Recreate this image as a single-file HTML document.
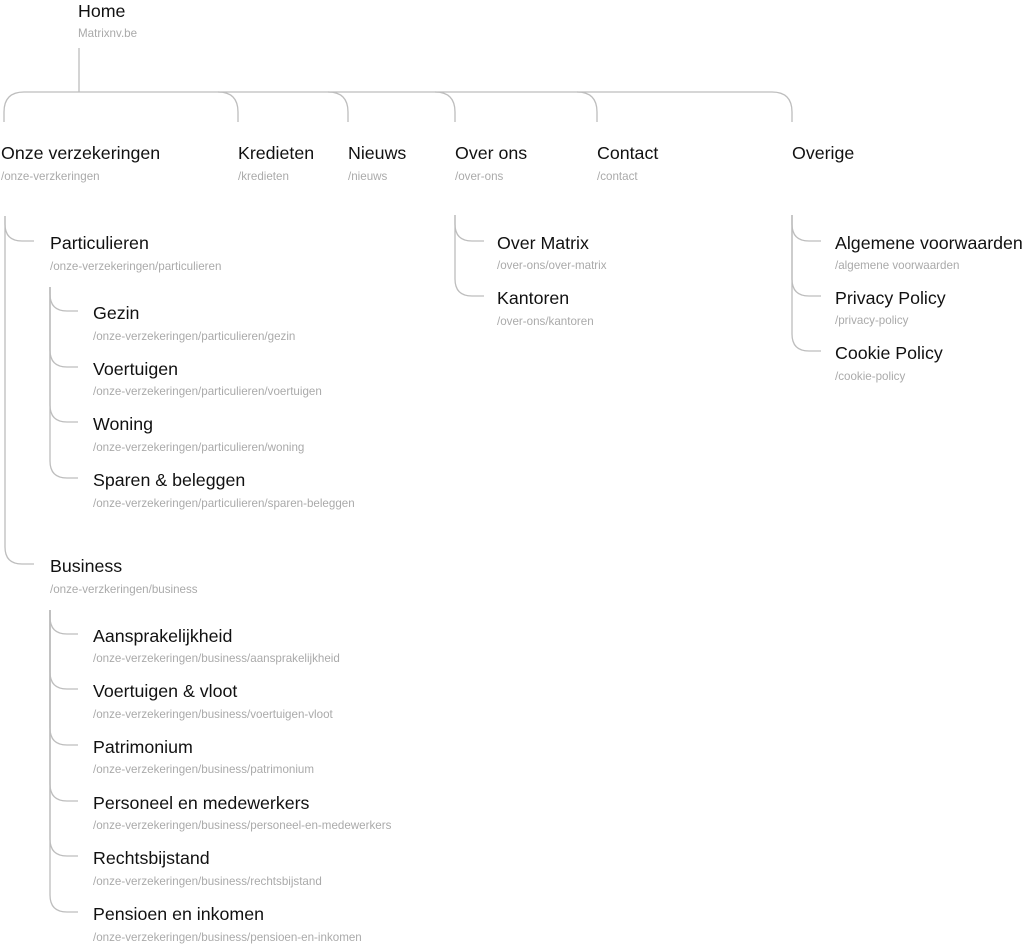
<!DOCTYPE html>
<html><head><meta charset="utf-8"><style>
body{margin:0;width:1024px;height:943px;background:#fff;position:relative;overflow:hidden;font-family:"Liberation Sans",Arial,sans-serif}
.t{position:absolute;font-size:17.8px;line-height:20px;color:#111;white-space:nowrap}
.u{position:absolute;font-size:11.6px;line-height:14px;color:#aaa;white-space:nowrap;margin-top:1px}
svg{position:absolute;left:0;top:0}
</style></head><body>
<svg width="1024" height="943" fill="none" stroke="#bdbdbd" stroke-width="1.3">
<path d="M79 48V92"/>
<path d="M4 122V112Q4 92 24 92H772Q792 92 792 112V122"/>
<path d="M218 92Q238 92 238 112V122"/>
<path d="M328 92Q348 92 348 112V122"/>
<path d="M435 92Q455 92 455 112V122"/>
<path d="M577 92Q597 92 597 112V122"/>
<path d="M5 216V224Q5 241 22 241H34"/>
<path d="M5 216V547Q5 564 22 564H34"/>
<path d="M50 287V294Q50 311 67 311H78"/>
<path d="M50 287V350Q50 367 67 367H78"/>
<path d="M50 287V405Q50 422 67 422H78"/>
<path d="M50 287V461Q50 478 67 478H78"/>
<path d="M50 610V617Q50 634 67 634H78"/>
<path d="M50 610V672Q50 689 67 689H78"/>
<path d="M50 610V728Q50 745 67 745H78"/>
<path d="M50 610V784Q50 801 67 801H78"/>
<path d="M50 610V839Q50 856 67 856H78"/>
<path d="M50 610V895Q50 912 67 912H78"/>
<path d="M455 215V224Q455 241 472 241H484"/>
<path d="M455 215V279Q455 296 472 296H484"/>
<path d="M792 215V224Q792 241 809 241H821"/>
<path d="M792 215V279Q792 296 809 296H821"/>
<path d="M792 215V334Q792 351 809 351H821"/>
</svg>
<div class="t" style="left:78px;top:1px">Home</div><div class="u" style="left:78px;top:26px">Matrixnv.be</div>

<div class="t" style="left:1px;top:143px">Onze verzekeringen</div><div class="u" style="left:1px;top:169px">/onze-verzkeringen</div>
<div class="t" style="left:238px;top:143px">Kredieten</div><div class="u" style="left:238px;top:169px">/kredieten</div>
<div class="t" style="left:348px;top:143px">Nieuws</div><div class="u" style="left:348px;top:169px">/nieuws</div>
<div class="t" style="left:455px;top:143px">Over ons</div><div class="u" style="left:455px;top:169px">/over-ons</div>
<div class="t" style="left:597px;top:143px">Contact</div><div class="u" style="left:597px;top:169px">/contact</div>
<div class="t" style="left:792px;top:143px">Overige</div>

<div class="t" style="left:50px;top:233px">Particulieren</div><div class="u" style="left:50px;top:259px">/onze-verzekeringen/particulieren</div>
<div class="t" style="left:93px;top:303px">Gezin</div><div class="u" style="left:93px;top:329px">/onze-verzekeringen/particulieren/gezin</div>
<div class="t" style="left:93px;top:359px">Voertuigen</div><div class="u" style="left:93px;top:384px">/onze-verzekeringen/particulieren/voertuigen</div>
<div class="t" style="left:93px;top:414px">Woning</div><div class="u" style="left:93px;top:440px">/onze-verzekeringen/particulieren/woning</div>
<div class="t" style="left:93px;top:470px">Sparen &amp; beleggen</div><div class="u" style="left:93px;top:496px">/onze-verzekeringen/particulieren/sparen-beleggen</div>

<div class="t" style="left:50px;top:556px">Business</div><div class="u" style="left:50px;top:582px">/onze-verzkeringen/business</div>
<div class="t" style="left:93px;top:626px">Aansprakelijkheid</div><div class="u" style="left:93px;top:651px">/onze-verzekeringen/business/aansprakelijkheid</div>
<div class="t" style="left:93px;top:681px">Voertuigen &amp; vloot</div><div class="u" style="left:93px;top:707px">/onze-verzekeringen/business/voertuigen-vloot</div>
<div class="t" style="left:93px;top:737px">Patrimonium</div><div class="u" style="left:93px;top:762px">/onze-verzekeringen/business/patrimonium</div>
<div class="t" style="left:93px;top:793px">Personeel en medewerkers</div><div class="u" style="left:93px;top:818px">/onze-verzekeringen/business/personeel-en-medewerkers</div>
<div class="t" style="left:93px;top:848px">Rechtsbijstand</div><div class="u" style="left:93px;top:874px">/onze-verzekeringen/business/rechtsbijstand</div>
<div class="t" style="left:93px;top:904px">Pensioen en inkomen</div><div class="u" style="left:93px;top:930px">/onze-verzekeringen/business/pensioen-en-inkomen</div>

<div class="t" style="left:497px;top:233px">Over Matrix</div><div class="u" style="left:497px;top:258px">/over-ons/over-matrix</div>
<div class="t" style="left:497px;top:288px">Kantoren</div><div class="u" style="left:497px;top:314px">/over-ons/kantoren</div>

<div class="t" style="left:835px;top:233px">Algemene voorwaarden</div><div class="u" style="left:835px;top:258px">/algemene voorwaarden</div>
<div class="t" style="left:835px;top:288px">Privacy Policy</div><div class="u" style="left:835px;top:313px">/privacy-policy</div>
<div class="t" style="left:835px;top:343px">Cookie Policy</div><div class="u" style="left:835px;top:369px">/cookie-policy</div>
</body></html>
